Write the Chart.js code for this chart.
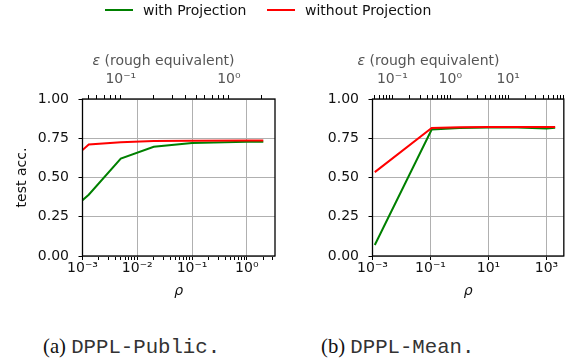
<!DOCTYPE html>
<html>
<head>
<meta charset="utf-8">
<script src="https://cdn.jsdelivr.net/npm/chart.js@4"></script>
<style>
  body { margin: 0; width: 571px; height: 362px; background: #fff; position: relative; overflow: hidden; font-family: "DejaVu Sans", sans-serif; color: #111; }
  .panel { position: absolute; top: 0; height: 305px; }
  .legend-item { position: absolute; top: 1px; height: 18px; display: flex; align-items: center; font-size: 14px; white-space: nowrap; }
  .legend-item span.swatch { display: inline-block; width: 28px; height: 2px; margin-right: 10px; }
  .eps-title { position: absolute; top: 60px; transform: translate(-50%, -50%); font-size: 14px; color: #555; white-space: nowrap; line-height: 1; }
  .caption { position: absolute; top: 334px; font-size: 20.7px; line-height: 24px; white-space: nowrap; color: #111; }
  .caption .tag { font-family: "Liberation Serif", serif; }
  .caption .name { font-family: "Liberation Mono", monospace; color: #333; }
</style>
</head>
<body>
<div class="panel" style="left:0; width:290px;"><canvas id="publicChart"></canvas></div>
<div class="panel" style="left:290px; width:281px;"><canvas id="meanChart"></canvas></div>

<div class="legend-item" style="left:105px;"><span class="swatch" style="background:#008000"></span>with Projection</div>
<div class="legend-item" style="left:267px;"><span class="swatch" style="background:#ff0000"></span>without Projection</div>

<div class="eps-title" style="left:163.5px;"><i>ε</i> (rough equivalent)</div>
<div class="eps-title" style="left:428.5px;"><i>ε</i> (rough equivalent)</div>

<div class="caption" style="left:43px;"><span class="tag">(a) </span><span class="name">DPPL-Public.</span></div>
<div class="caption" style="left:321px;"><span class="tag">(b) </span><span class="name">DPPL-Mean.</span></div>

<script>
// DPPL-Public panel
const rhoPublic = [0.001, 0.0013, 0.005, 0.02, 0.1, 1, 2];
const withProjPublic = [0.355, 0.39, 0.62, 0.696, 0.72, 0.728, 0.728];
const withoutProjPublic = [0.675, 0.71, 0.725, 0.732, 0.734, 0.736, 0.736];

// DPPL-Mean panel
const rhoMean = [0.0012, 0.11, 1, 10, 100, 1000, 2000];
const withProjMean = [0.07, 0.806, 0.815, 0.818, 0.818, 0.812, 0.817];
const withoutProjMean = [0.534, 0.815, 0.82, 0.821, 0.821, 0.821, 0.821];

// axes
const accTicks = [0, 0.25, 0.5, 0.75, 1];
const rhoRangePublic = [1e-3, 3.27];
const rhoTicksPublic = [1e-3, 1e-2, 1e-1, 1];
const rhoLabelsPublic = ["10⁻³", "10⁻²", "10⁻¹", "10⁰"];
const epsRangePublic = [0.0442, 2.67];
const epsTicksPublic = [0.1, 1];
const epsLabelsPublic = ["10⁻¹", "10⁰"];

const rhoRangeMean = [1e-3, 3980];
const rhoTicksMean = [1e-3, 1e-1, 10, 1000];
const rhoLabelsMean = ["10⁻³", "10⁻¹", "10¹", "10³"];
const epsRangeMean = [0.0454, 91.2];
const epsTicksMean = [0.1, 1, 10];
const epsLabelsMean = ["10⁻¹", "10⁰", "10¹"];

const tickFont = { family: "DejaVu Sans", size: 14 };
const gridGray = "#b0b0b0";

// major decades get a label, the 2..9 multiples become unlabeled minor ticks
function logTickList(range, majors, labels, withMinor) {
  const out = [];
  const lo = Math.floor(Math.log10(range[0]));
  const hi = Math.ceil(Math.log10(range[1]));
  for (let k = lo; k <= hi; k++) {
    for (let m = 1; m <= 9; m++) {
      const v = m * Math.pow(10, k);
      if (v < range[0] * 0.9999 || v > range[1] * 1.0001) continue;
      const idx = majors.findIndex(t => Math.abs(Math.log10(t) - Math.log10(v)) < 1e-9);
      if (idx >= 0) out.push({ value: v, label: labels[idx] });
      else if (withMinor && m > 1) out.push({ value: v, label: "" });
    }
  }
  return out;
}

function logAxis(position, range, list, color, padding, showGrid, height) {
  return {
    type: "logarithmic",
    position,
    min: range[0],
    max: range[1],
    afterBuildTicks: scale => { scale.ticks = list.map(t => ({ value: t.value })); },
    afterFit: scale => { scale.height = height; },
    ticks: {
      autoSkip: false,
      maxRotation: 0,
      padding,
      color,
      font: tickFont,
      callback: (value, i) => list[i] ? list[i].label : ""
    },
    grid: {
      drawOnChartArea: showGrid,
      color: ctx => (list[ctx.index] && list[ctx.index].label) ? gridGray : "rgba(0,0,0,0)",
      tickColor: "#000",
      tickLength: 4,
      lineWidth: 1
    },
    border: { display: false }
  };
}

const frame = {
  id: "frame",
  afterDatasetsDraw(chart) {
    const { ctx, chartArea: a } = chart;
    ctx.save();
    ctx.strokeStyle = "#000";
    ctx.lineWidth = 1.3;
    ctx.strokeRect(a.left, a.top, a.right - a.left, a.bottom - a.top);
    ctx.restore();
  }
};

function series(xs, ys) {
  return xs.map((x, i) => ({ x, y: ys[i] }));
}

function buildPanel(id, rho, withProj, withoutProj, rhoList, epsList, rhoRange, epsRange, padRight, showYTitle) {
  new Chart(document.getElementById(id), {
    type: "line",
    data: {
      datasets: [
        { label: "with Projection", data: series(rho, withProj), borderColor: "#008000", borderWidth: 2, pointRadius: 0, tension: 0, order: 1 },
        { label: "without Projection", data: series(rho, withoutProj), borderColor: "#ff0000", borderWidth: 2, pointRadius: 0, tension: 0, order: 0 }
      ]
    },
    options: {
      responsive: true,
      maintainAspectRatio: false,
      animation: false,
      events: [],
      layout: { padding: { left: 0, right: padRight, top: 0, bottom: 0 } },
      plugins: { legend: { display: false }, tooltip: { enabled: false } },
      scales: {
        x: Object.assign(logAxis("bottom", rhoRange, rhoList, "#111", 0, true, 49), {
          title: { display: true, text: "ρ", color: "#111", font: { family: "DejaVu Sans", size: 14, style: "italic" }, padding: { top: 0, bottom: 5 } }
        }),
        x2: logAxis("top", epsRange, epsList, "#555", 7.5, false, 99),
        y: {
          min: 0,
          max: 1,
          afterBuildTicks: scale => { scale.ticks = accTicks.map(v => ({ value: v })); },
          afterFit: scale => { scale.width = 82.5; },
          ticks: { padding: 9.5, color: "#111", font: tickFont, callback: v => v.toFixed(2) },
          grid: { color: gridGray, lineWidth: 1, tickColor: "#000", tickLength: 4 },
          border: { display: false },
          title: { display: showYTitle, text: "test acc.", color: "#111", font: tickFont, padding: { top: 14, bottom: 0 } }
        }
      }
    },
    plugins: [frame]
  });
}

buildPanel("publicChart", rhoPublic, withProjPublic, withoutProjPublic,
  logTickList(rhoRangePublic, rhoTicksPublic, rhoLabelsPublic, true),
  logTickList(epsRangePublic, epsTicksPublic, epsLabelsPublic, true),
  rhoRangePublic, epsRangePublic, 15, true);

buildPanel("meanChart", rhoMean, withProjMean, withoutProjMean,
  logTickList(rhoRangeMean, rhoTicksMean, rhoLabelsMean, false),
  logTickList(epsRangeMean, epsTicksMean, epsLabelsMean, true),
  rhoRangeMean, epsRangeMean, 6, false);
</script>
</body>
</html>
